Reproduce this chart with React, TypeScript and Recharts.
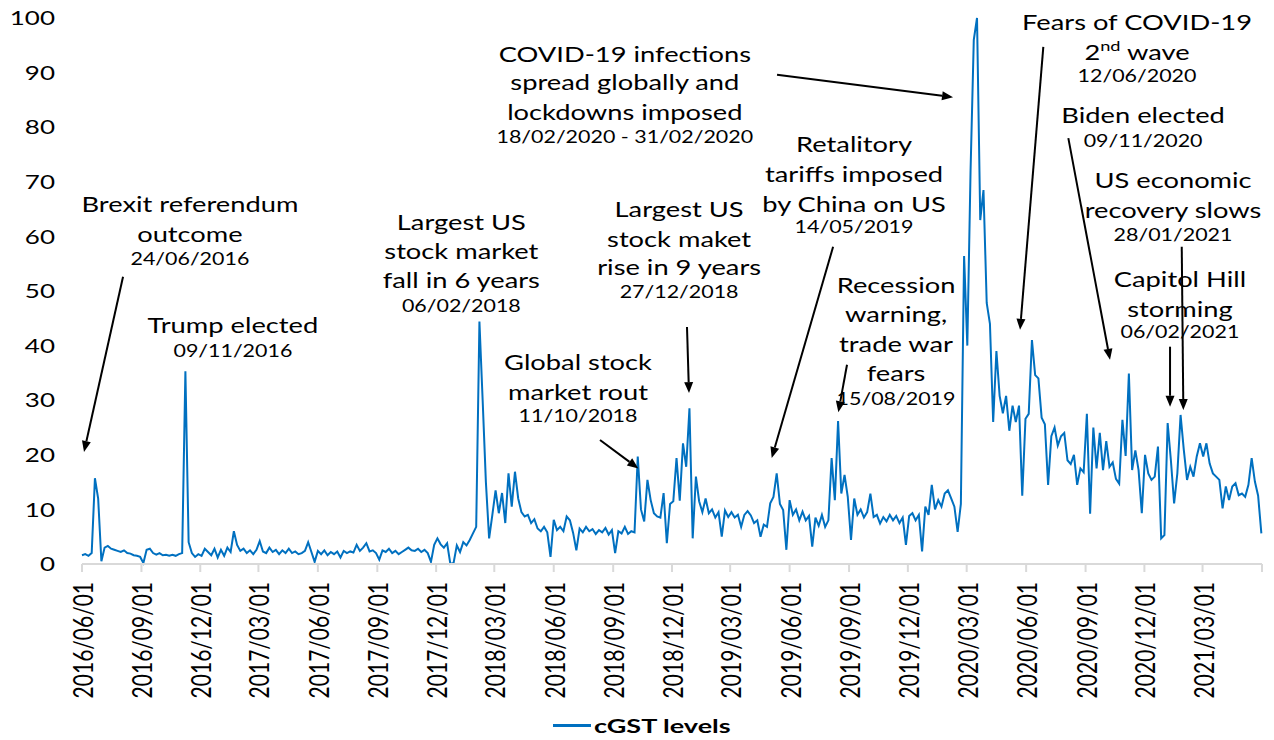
import React from 'react';
import { LineChart, Line, XAxis, YAxis, ReferenceLine, ReferenceDot, Legend } from 'recharts';

// ---------- data ----------
const DAY = 86400000;
const START = Date.UTC(2016, 5, 1);
const END = Date.UTC(2021, 5, 1);
const STEP_DAYS = 5; // one reading every five days, starting 2016/06/01

const cgst2016 = [
  1.6, 1.8, 1.5, 2.0, 15.7, 12.0, 0.5, 3.0, 3.3, 2.8, 2.6, 2.4, 2.2, 2.5, 2.0, 1.9, 1.6, 1.5, 1.3, 0.2,
  2.6, 2.8, 2.0, 1.7, 2.0, 1.6, 1.7, 1.5, 1.7, 1.5, 1.8, 2.0, 35.3, 4.0, 2.0, 1.3, 1.8, 1.5, 2.8, 2.2,
  1.6, 2.8, 1.2,
];
const cgst2017 = [
  2.6, 1.5, 3.0, 2.2, 6.0, 3.5, 2.4, 2.8, 2.0, 2.5, 1.8, 2.6, 4.2, 2.3, 2.0, 3.0, 2.2, 2.6, 1.8, 2.5,
  2.0, 2.8, 2.0, 2.3, 1.8, 2.0, 2.4, 4.0, 2.2, 0.4, 2.4, 1.8, 2.5, 1.6, 2.2, 1.8, 2.3, 1.2, 2.4, 2.0,
  2.3, 2.1, 3.5, 2.4, 3.0, 3.8, 2.3, 2.5, 2.0, 0.8, 2.5, 2.2, 2.8, 2.0, 2.4, 1.8, 2.2, 2.6, 3.0, 2.5,
  2.4, 2.8, 2.2, 2.6, 2.0, 0.4, 3.5, 4.7, 3.6, 3.0, 3.8, 0.0, 0.2,
];
const cgst2018 = [
  3.4, 2.2, 4.0, 3.4, 4.4, 5.6, 6.8, 44.4, 30.0, 15.0, 4.7, 9.0, 13.5, 9.3, 13.0, 7.5, 16.6, 10.5, 16.9, 12.0,
  9.5, 8.7, 9.0, 7.5, 8.2, 6.5, 6.0, 6.8, 5.8, 1.3, 8.1, 6.2, 6.8, 6.0, 8.7, 8.0, 5.7, 2.5, 6.5, 5.8,
  6.8, 6.0, 6.4, 5.5, 6.2, 5.8, 6.6, 5.4, 6.2, 2.0, 6.0, 5.6, 6.8, 5.5, 6.0, 5.8, 19.7, 10.0, 7.8, 15.4,
  11.7, 9.3, 8.7, 8.5, 13.0, 3.8, 11.0, 11.5, 19.4, 11.6, 22.1, 17.8, 28.5,
];
const cgst2019 = [
  4.7, 16.0, 11.5, 9.5, 12.0, 9.3, 10.0, 8.5, 9.5, 5.0, 9.8, 8.6, 9.5, 8.5, 9.0, 6.8, 9.0, 9.7, 8.9, 7.5,
  8.0, 5.0, 7.2, 6.8, 11.1, 12.3, 16.6, 11.0, 9.9, 2.6, 11.7, 9.0, 10.0, 8.0, 9.6, 8.0, 8.8, 3.2, 8.5, 7.0,
  9.0, 6.8, 8.0, 19.4, 11.7, 26.2, 12.9, 16.3, 12.3, 4.4, 12.0, 9.0, 10.0, 8.5, 9.5, 12.9, 8.6, 9.0, 7.4, 8.6,
  7.8, 9.0, 8.0, 8.8, 7.5, 8.5, 3.5, 8.8, 9.3, 8.0, 9.0, 2.3, 10.5,
];
const cgst2020 = [
  9.0, 14.5, 10.0, 11.7, 10.5, 12.9, 13.5, 12.0, 10.5, 5.9, 11.0, 56.4, 40.0, 72.0, 96.0, 100.0, 63.0, 68.5, 47.8, 44.0,
  26.0, 39.0, 30.8, 27.6, 30.8, 24.4, 29.0, 26.0, 29.0, 12.5, 26.6, 27.5, 41.0, 34.6, 34.0, 26.8, 25.6, 14.5, 23.4, 25.0,
  21.7, 23.4, 24.0, 19.0, 18.3, 20.0, 14.5, 17.5, 16.8, 27.5, 9.2, 25.0, 17.5, 24.0, 17.2, 22.5, 17.8, 18.6, 15.6, 14.7,
  26.4, 19.8, 34.9, 17.2, 20.8, 17.2, 9.3, 20.0, 16.6, 15.4, 16.0, 21.5, 4.7,
];
const cgst2021 = [
  5.3, 25.8, 19.0, 11.1, 16.6, 27.3, 20.9, 15.4, 17.8, 16.0, 19.7, 22.1, 19.7, 22.1, 18.4, 16.6, 16.0, 15.4, 10.2, 14.2,
  11.7, 14.2, 14.8, 12.6, 12.9, 12.3, 14.5, 19.4, 15.1, 12.5, 5.6,
];

const cgstValues = [...cgst2016, ...cgst2017, ...cgst2018, ...cgst2019, ...cgst2020, ...cgst2021];
const chartData = cgstValues.map((v, i) => ({ t: START + i * STEP_DAYS * DAY, cgst: v }));

const tickDates = [
  '2016-06-01', '2016-09-01', '2016-12-01', '2017-03-01', '2017-06-01', '2017-09-01', '2017-12-01',
  '2018-03-01', '2018-06-01', '2018-09-01', '2018-12-01', '2019-03-01', '2019-06-01', '2019-09-01',
  '2019-12-01', '2020-03-01', '2020-06-01', '2020-09-01', '2020-12-01', '2021-03-01', '2021-06-01',
];
const xTicks = tickDates.map((s) => Date.parse(s + 'T00:00:00Z'));
const yTicks = [0, 10, 20, 30, 40, 50, 60, 70, 80, 90, 100];

// annotations: anchor = (days after 2016/06/01, value); offsets = baseline offsets in px of each line
type Note = { day: number; value: number; lines: string[]; offsets: number[]; date: string; dateOffset: number };
const notes: Note[] = [
  { day: 167, value: 64.5, lines: ['Brexit referendum', 'outcome'], offsets: [0, 30], date: '24/06/2016', dateOffset: 53 },
  { day: 233.5, value: 42.3, lines: ['Trump elected'], offsets: [0], date: '09/11/2016', dateOffset: 24 },
  { day: 587, value: 61.2, lines: ['Largest US', 'stock market', 'fall in 6 years'], offsets: [0, 29, 58], date: '06/02/2018', dateOffset: 82 },
  { day: 924, value: 63.6, lines: ['Largest US', 'stock maket', 'rise in 9 years'], offsets: [0, 30, 58.5], date: '27/12/2018', dateOffset: 81.5 },
  { day: 767.6, value: 35.5, lines: ['Global stock', 'market rout'], offsets: [0, 29.5], date: '11/10/2018', dateOffset: 52 },
  { day: 840, value: 92.0, lines: ['COVID-19 infections', 'spread globally and', 'lockdowns imposed'], offsets: [0, 28.5, 58.5], date: '18/02/2020 - 31/02/2020', dateOffset: 81 },
  { day: 1194.7, value: 75.5, lines: ['Retalitory', 'tariffs imposed', 'by China on US'], offsets: [0, 30, 60], date: '14/05/2019', dateOffset: 81.5 },
  { day: 1259.7, value: 49.6, lines: ['Recession', 'warning,', 'trade war', 'fears'], offsets: [0, 28.5, 59, 88], date: '15/08/2019', dateOffset: 112 },
  { day: 1632.6, value: 97.8, lines: ['Fears of COVID-19', '2^nd^ wave'], offsets: [0, 29.5], date: '12/06/2020', dateOffset: 52 },
  { day: 1642, value: 80.7, lines: ['Biden elected'], offsets: [0], date: '09/11/2020', dateOffset: 23.5 },
  { day: 1688.3, value: 68.8, lines: ['US economic', 'recovery slows'], offsets: [0, 30], date: '28/01/2021', dateOffset: 52.5 },
  { day: 1699, value: 50.8, lines: ['Capitol Hill', 'storming'], offsets: [0, 30], date: '06/02/2021', dateOffset: 51.5 },
];

// arrows: from (day, value) to (day, value)
const arrows = [
  { d1: 63.5, v1: 52.6, d2: 3.1, v2: 20.5 },
  { d1: 936.2, v1: 43.4, d2: 939.3, v2: 31.3 },
  { d1: 801.6, v1: 22.7, d2: 860.9, v2: 17.5 },
  { d1: 1075.5, v1: 89.6, d2: 1347.9, v2: 85.5 },
  { d1: 1162.3, v1: 58.1, d2: 1067.3, v2: 19.4 },
  { d1: 1183.8, v1: 36.5, d2: 1170.4, v2: 27.8 },
  { d1: 1487.6, v1: 94.7, d2: 1451.6, v2: 42.9 },
  { d1: 1526.3, v1: 78.0, d2: 1590.8, v2: 37.4 },
  { d1: 1701.8, v1: 58.1, d2: 1704.3, v2: 28.2 },
  { d1: 1683.7, v1: 39.8, d2: 1683.7, v2: 28.8 },
];

// ---------- styling ----------
const S = 1.3; // horizontal stretch of all text in the reference
const FONT = "Lato, 'Open Sans', sans-serif";
const BLUE = '#0070C0';
const dayTs = (d: number) => START + d * DAY;

const fmtTick = (ts: number) => {
  const d = new Date(ts);
  if (ts >= END) return '';
  const mm = String(d.getUTCMonth() + 1).padStart(2, '0');
  const dd = String(d.getUTCDate()).padStart(2, '0');
  return `${d.getUTCFullYear()}/${mm}/${dd}`;
};

const XTick = (props: any) => {
  const { x, y, payload } = props;
  return (
    <text
      transform={`translate(${x + 11},${y + 10}) scale(${S},1) rotate(-90)`}
      textAnchor="end"
      fontSize={21}
      fontFamily={FONT}
      fill="#000"
    >
      {fmtTick(payload.value)}
    </text>
  );
};

const YTick = (props: any) => {
  const { x, y, payload } = props;
  return (
    <text
      transform={`translate(${x},${y}) scale(${S},1)`}
      textAnchor="end"
      dy="0.36em"
      fontSize={20}
      fontFamily={FONT}
      fill="#000"
    >
      {payload.value}
    </text>
  );
};

const renderLine = (line: string) => {
  const parts = line.split('^');
  if (parts.length === 1) return line;
  return parts.map((p, k) =>
    k % 2 === 1 ? (
      <tspan key={k} dy={-9} fontSize={14}>{p}</tspan>
    ) : (
      <tspan key={k} dy={k === 0 ? 0 : 9}>{p}</tspan>
    ),
  );
};

const makeNoteShape = (note: Note) => (props: any) => {
  const { cx, cy } = props;
  return (
    <g>
      {note.lines.map((ln, k) => (
        <text
          key={k}
          transform={`translate(${cx},${cy + note.offsets[k]}) scale(${S},1)`}
          textAnchor="middle"
          fontSize={21}
          fontFamily={FONT}
          fill="#000"
        >
          {renderLine(ln)}
        </text>
      ))}
      <text
        transform={`translate(${cx},${cy + note.dateOffset}) scale(${S},1)`}
        textAnchor="middle"
        fontSize={16.5}
        fontFamily={FONT}
        fill="#000"
      >
        {note.date}
      </text>
    </g>
  );
};

const ArrowShape = (props: any) => {
  const { x1, y1, x2, y2 } = props;
  const ang = Math.atan2(y2 - y1, x2 - x1);
  const len = 11;
  const half = 4.5;
  const bx = x2 - len * Math.cos(ang);
  const by = y2 - len * Math.sin(ang);
  const px = -Math.sin(ang) * half;
  const py = Math.cos(ang) * half;
  return (
    <g>
      <line x1={x1} y1={y1} x2={bx} y2={by} stroke="#000" strokeWidth={2} />
      <polygon points={`${x2},${y2} ${bx + px},${by + py} ${bx - px},${by - py}`} fill="#000" />
    </g>
  );
};

const LegendContent = () => (
  <div
    style={{
      width: 1274,
      height: 44,
      display: 'flex',
      justifyContent: 'center',
      alignItems: 'center',
      paddingTop: 14,
      boxSizing: 'border-box',
    }}
  >
    <div style={{ display: 'flex', alignItems: 'center', marginLeft: 10 }}>
      <div style={{ width: 38, height: 3, background: BLUE, marginRight: 3 }} />
      <div
        style={{
          fontFamily: FONT,
          fontWeight: 700,
          fontSize: 19,
          color: '#000',
          transform: 'scaleX(1.42)',
          transformOrigin: 'left center',
          width: 137,
          whiteSpace: 'nowrap',
        }}
      >
        cGST levels
      </div>
    </div>
  </div>
);

export default function App() {
  return (
    <div style={{ position: 'absolute', left: 0, top: 0, width: 1274, height: 740, background: '#fff' }}>
      <LineChart width={1274} height={740} data={chartData} margin={{ top: 18, right: 12, left: 0, bottom: 0 }}>
        <XAxis
          type="number"
          dataKey="t"
          domain={[START, END]}
          ticks={xTicks}
          interval={0}
          tick={<XTick />}
          tickSize={8}
          tickMargin={0}
          height={132}
          axisLine={{ stroke: '#d9d9d9', strokeWidth: 2 }}
          tickLine={{ stroke: '#d9d9d9', strokeWidth: 2 }}
        />
        <YAxis
          type="number"
          domain={[0, 100]}
          ticks={yTicks}
          interval={0}
          width={82}
          axisLine={false}
          tickLine={false}
          tickSize={6}
          tickMargin={21}
          tick={<YTick />}
        />
        <Legend verticalAlign="bottom" content={<LegendContent />} wrapperStyle={{ left: 0, width: 1274, height: 44 }} />
        <Line
          type="linear"
          dataKey="cgst"
          name="cGST levels"
          stroke={BLUE}
          strokeWidth={2}
          dot={false}
          activeDot={false}
          isAnimationActive={false}
        />
        {arrows.map((a, k) => (
          <ReferenceLine
            key={`a${k}`}
            segment={[
              { x: dayTs(a.d1), y: a.v1 },
              { x: dayTs(a.d2), y: a.v2 },
            ]}
            ifOverflow="visible"
            shape={ArrowShape}
          />
        ))}
        {notes.map((n, k) => (
          <ReferenceDot
            key={`n${k}`}
            x={dayTs(n.day)}
            y={n.value}
            r={0}
            ifOverflow="visible"
            shape={makeNoteShape(n)}
          />
        ))}
      </LineChart>
    </div>
  );
}
